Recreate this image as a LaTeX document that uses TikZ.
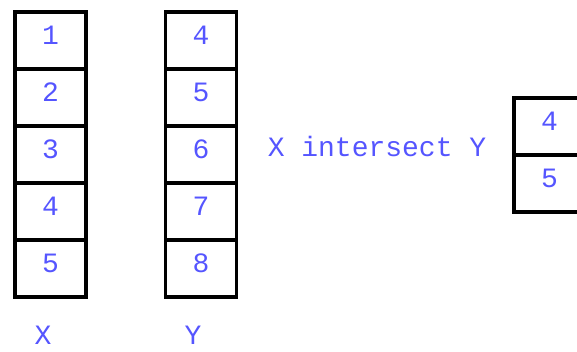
\documentclass[tikz,border=0pt]{standalone}
\usepackage{fontspec}
\setmonofont{Liberation Mono}
\usetikzlibrary{positioning}
\definecolor{setblue}{RGB}{85,85,255}

\begin{document}
\begin{tikzpicture}[x=1pt,y=-1pt,
    setfont/.style={text=setblue,font=\ttfamily\fontsize{28}{30}\selectfont},
    cell/.style={setfont,draw=black,line width=3.5pt,
        minimum width=71pt,minimum height=57pt,inner sep=0pt,text depth=10pt}]
\useasboundingbox (0,0) rectangle (577,352);

% the two sets
\foreach \v [count=\i] in {1,...,5}
    \node [cell] (x\i) at (50.5,{40.5+57*(\i-1)}) {\v};
\foreach \v [count=\i] in {4,...,8}
    \node [cell] (y\i) at (201,{40.5+57*(\i-1)}) {\v};

\node [setfont,inner sep=0pt] (xname) at (43,335) {X};
\node [setfont,inner sep=0pt] (yname) at (193,335) {Y};

% result
\node [setfont] (op) at (377,146) {X intersect Y};
\node [cell] (r1) at (549.5,126.5) {4};
\node [cell] (r2) at (549.5,183.5) {5};

\end{tikzpicture}
\end{document}
